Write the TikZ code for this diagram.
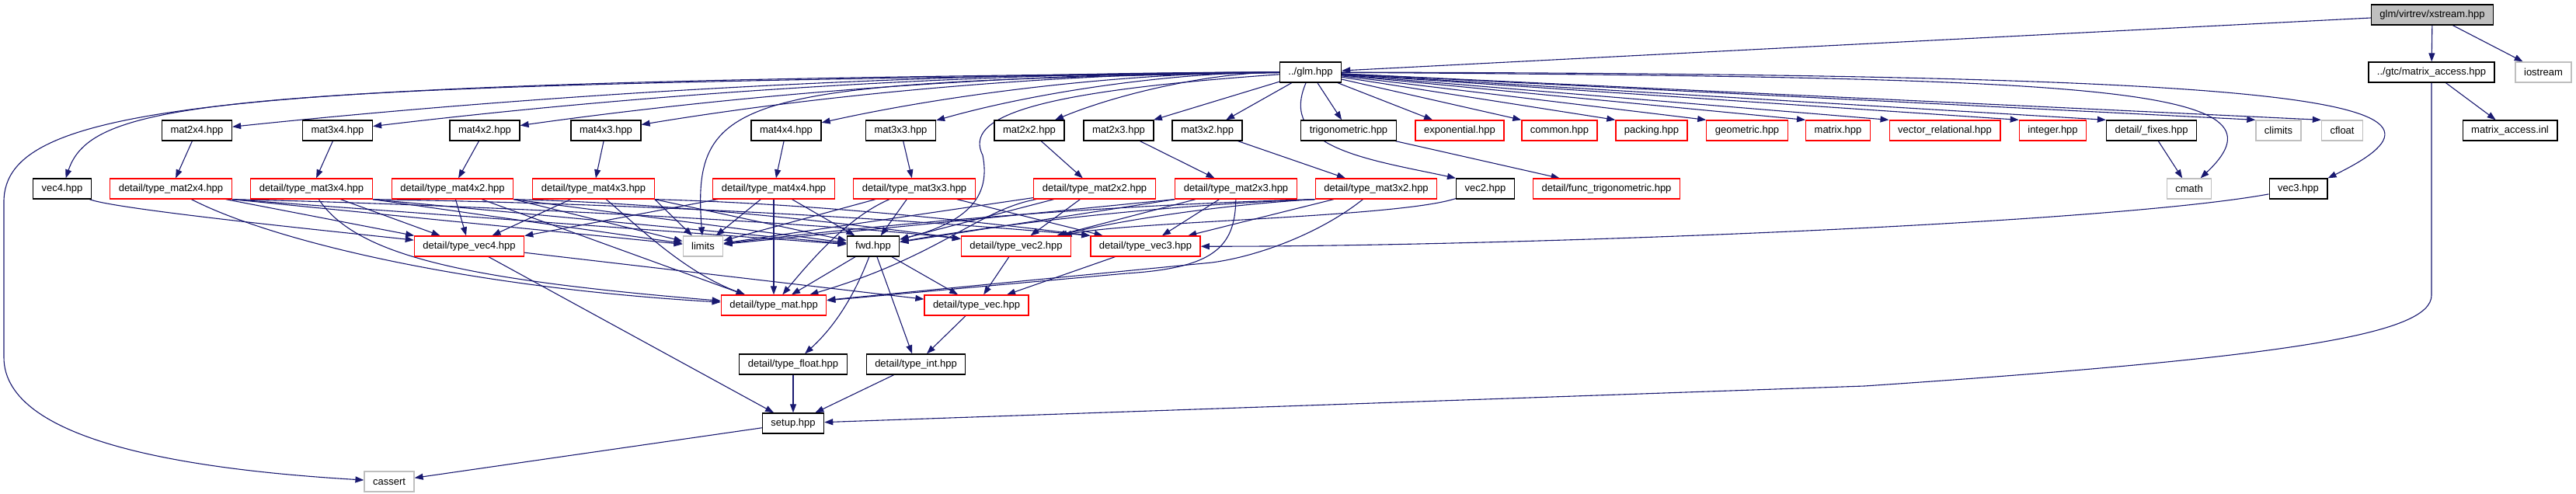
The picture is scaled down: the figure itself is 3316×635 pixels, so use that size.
\documentclass[tikz,border=0pt]{standalone}
\usepackage{fontspec}
\setmainfont{Liberation Sans}
\usepackage{xcolor}
\usepackage{tikz}
\usetikzlibrary{arrows.meta}
\definecolor{incblue}{HTML}{191970}
\definecolor{hdrred}{HTML}{FF0000}
\definecolor{sysgray}{HTML}{BFBFBF}
\pgfdeclarelayer{edges}
\pgfsetlayers{edges,main}

\begin{document}
\begin{tikzpicture}[x=1pt,y=-1pt,>={Triangle[length=11pt,width=8pt]},
    hdr/.style={draw=black,line width=1.3pt,fill=white,minimum height=26pt,
      inner xsep=11pt,inner ysep=2pt,font=\fontsize{13}{15}\selectfont},
    redhdr/.style={hdr,draw=hdrred},
    syshdr/.style={hdr,draw=sysgray},
    roothdr/.style={hdr,fill=sysgray},
    incl/.style={->,draw=incblue,line width=1.1pt}]
    \useasboundingbox (0,0) rectangle (3316,635);
    \node[roothdr] (xstream) at (3131,19) {glm/virtrev/xstream.hpp};
    \node[hdr] (glm) at (1687,93) {../glm.hpp};
    \node[hdr] (gtcmat) at (3130,93) {../gtc/matrix\_access.hpp};
    \node[syshdr] (iostream) at (3274,93) {iostream};
    \node[hdr] (mat24) at (253.5,168) {mat2x4.hpp};
    \node[hdr] (mat34) at (434.5,168) {mat3x4.hpp};
    \node[hdr] (mat42) at (624,168) {mat4x2.hpp};
    \node[hdr] (mat43) at (780,168) {mat4x3.hpp};
    \node[hdr] (mat44) at (1012,168) {mat4x4.hpp};
    \node[hdr] (mat33) at (1159.5,168) {mat3x3.hpp};
    \node[hdr] (mat22) at (1325,168) {mat2x2.hpp};
    \node[hdr] (mat23) at (1440,168) {mat2x3.hpp};
    \node[hdr] (mat32) at (1554,168) {mat3x2.hpp};
    \node[hdr] (trig) at (1736,168) {trigonometric.hpp};
    \node[redhdr] (expo) at (1879,168) {exponential.hpp};
    \node[redhdr] (common) at (2007.5,168) {common.hpp};
    \node[redhdr] (packing) at (2126,168) {packing.hpp};
    \node[redhdr] (geometric) at (2249,168) {geometric.hpp};
    \node[redhdr] (matrixh) at (2366,168) {matrix.hpp};
    \node[redhdr] (vecrel) at (2503.5,168) {vector\_relational.hpp};
    \node[redhdr] (integer) at (2642.5,168) {integer.hpp};
    \node[hdr] (fixes) at (2769.5,168) {detail/\_fixes.hpp};
    \node[syshdr] (climits) at (2933,168) {climits};
    \node[syshdr] (cfloat) at (3015,168) {cfloat};
    \node[hdr] (matinl) at (3231,168) {matrix\_access.inl};
    \node[hdr] (vec4) at (80,243) {vec4.hpp};
    \node[redhdr] (tmat24) at (220,243) {detail/type\_mat2x4.hpp};
    \node[redhdr] (tmat34) at (401,243) {detail/type\_mat3x4.hpp};
    \node[redhdr] (tmat42) at (582.5,243) {detail/type\_mat4x2.hpp};
    \node[redhdr] (tmat43) at (764,243) {detail/type\_mat4x3.hpp};
    \node[redhdr] (tmat44) at (996,243) {detail/type\_mat4x4.hpp};
    \node[redhdr] (tmat33) at (1177,243) {detail/type\_mat3x3.hpp};
    \node[redhdr] (tmat22) at (1409,243) {detail/type\_mat2x2.hpp};
    \node[redhdr] (tmat23) at (1591,243) {detail/type\_mat2x3.hpp};
    \node[redhdr] (tmat32) at (1771.5,243) {detail/type\_mat3x2.hpp};
    \node[hdr] (vec2) at (1912,243) {vec2.hpp};
    \node[redhdr] (functrig) at (2068,243) {detail/func\_trigonometric.hpp};
    \node[syshdr] (cmath) at (2818,243) {cmath};
    \node[hdr] (vec3) at (2958.5,243) {vec3.hpp};
    \node[redhdr] (tvec4) at (604,317) {detail/type\_vec4.hpp};
    \node[syshdr] (limits) at (905,317) {limits};
    \node[hdr] (fwd) at (1124,317) {fwd.hpp};
    \node[redhdr] (tvec2) at (1308,317) {detail/type\_vec2.hpp};
    \node[redhdr] (tvec3) at (1474.5,317) {detail/type\_vec3.hpp};
    \node[redhdr] (tmat) at (996,393) {detail/type\_mat.hpp};
    \node[redhdr] (tvec) at (1257,393) {detail/type\_vec.hpp};
    \node[hdr] (tfloat) at (1021,469) {detail/type\_float.hpp};
    \node[hdr] (tint) at (1179,469) {detail/type\_int.hpp};
    \node[hdr] (setup) at (1021,545) {setup.hpp};
    \node[syshdr] (cassert) at (501,620) {cassert};
    \begin{pgfonlayer}{edges}
    \draw[incl] (xstream) -- (glm);
    \draw[incl] (xstream) -- (gtcmat);
    \draw[incl] (xstream) -- (iostream);
    \draw[incl] (gtcmat) -- (matinl);
    \draw[incl] (gtcmat) -- (3130,380) .. controls (3130,430) and (2950,460) .. (2400,497) -- (setup);
    \draw[incl] (glm) .. controls (300,105) and (5,130) .. (5,260) -- (5,460) .. controls (5,570) and (250,605) .. (cassert);
    \draw[incl] (glm) .. controls (300,110) and (120,125) .. (vec4);
    \draw[incl] (glm) .. controls (1209,93) and (731,118) .. (mat24);
    \draw[incl] (glm) .. controls (1269,93) and (852,118) .. (mat34);
    \draw[incl] (glm) .. controls (1333,93) and (978,118) .. (mat42);
    \draw[incl] (glm) .. controls (1385,93) and (1082,118) .. (mat43);
    \draw[incl] (glm) .. controls (1462,93) and (1237,118) .. (mat44);
    \draw[incl] (glm) .. controls (1511,93) and (1335,118) .. (mat33);
    \draw[incl] (glm) .. controls (1566,93) and (1446,118) .. (mat22);
    \draw[incl] (glm) -- (mat23);
    \draw[incl] (glm) -- (mat32);
    \draw[incl] (glm) .. controls (950,105) and (890,120) .. (limits);
    \draw[incl] (glm) .. controls (1330,118) and (1240,150) .. (1265,200) .. controls (1275,250) and (1250,285) .. (fwd);
    \draw[incl] (glm) .. controls (1645,190) and (1760,205) .. (vec2.north west);
    \draw[incl] (glm) -- (trig);
    \draw[incl] (glm) -- (expo);
    \draw[incl] (glm) -- (common.north west);
    \draw[incl] (glm) -- (packing.north west);
    \draw[incl] (glm) -- (geometric.north west);
    \draw[incl] (glm) -- (matrixh.north west);
    \draw[incl] (glm) -- (vecrel.north west);
    \draw[incl] (glm) -- (integer.north west);
    \draw[incl] (glm) -- (fixes.north west);
    \draw[incl] (glm) -- (climits.north west);
    \draw[incl] (glm) -- (cfloat.north west);
    \draw[incl] (glm) .. controls (2700,100) and (2960,110) .. (cmath);
    \draw[incl] (glm) .. controls (3000,95) and (3200,130) .. (vec3.north east);
    \draw[incl] (mat24) -- (tmat24);
    \draw[incl] (mat34) -- (tmat34);
    \draw[incl] (mat42) -- (tmat42);
    \draw[incl] (mat43) -- (tmat43);
    \draw[incl] (mat44) -- (tmat44);
    \draw[incl] (mat33) -- (tmat33);
    \draw[incl] (mat22) -- (tmat22);
    \draw[incl] (mat23) -- (tmat23);
    \draw[incl] (mat32) -- (tmat32);
    \draw[incl] (trig) -- (functrig);
    \draw[incl] (fixes) -- (cmath);
    \draw[incl] (vec4) .. controls (150,270) and (450,300) .. (tvec4);
    \draw[incl] (vec2) .. controls (1800,280) and (1450,285) .. (tvec2);
    \draw[incl] (vec3) .. controls (2700,290) and (1900,318) .. (tvec3);
    \draw[incl] (tmat24.south east) -- (limits);
    \draw[incl] (tmat24.south east) -- (fwd);
    \draw[incl] (tmat24.south east) .. controls (635,264) and (1100,290) .. (tvec2);
    \draw[incl] (tmat24) -- (tvec4);
    \draw[incl] (tmat24) .. controls (350,310) and (600,370) .. (tmat);
    \draw[incl] (tmat34.south east) -- (limits);
    \draw[incl] (tmat34.south east) -- (fwd);
    \draw[incl] (tmat34.south east) .. controls (811,262) and (1143,280) .. (tvec3.north west);
    \draw[incl] (tmat34) -- (tvec4);
    \draw[incl] (tmat34) .. controls (460,330) and (600,360) .. (tmat);
    \draw[incl] (tmat42.south east) -- (limits);
    \draw[incl] (tmat42.south east) -- (fwd);
    \draw[incl] (tmat42.south east) .. controls (880,262) and (1110,290) .. (tvec2);
    \draw[incl] (tmat42) -- (tvec4);
    \draw[incl] (tmat42) -- (tmat);
    \draw[incl] (tmat43.south east) -- (limits);
    \draw[incl] (tmat43.south east) -- (fwd);
    \draw[incl] (tmat43.south east) .. controls (1030,262) and (1217,280) .. (tvec3.north west);
    \draw[incl] (tmat43) -- (tvec4);
    \draw[incl] (tmat43) .. controls (820,290) and (880,350) .. (tmat);
    \draw[incl] (tmat44) -- (limits);
    \draw[incl] (tmat44) -- (fwd);
    \draw[incl] (tmat44) -- (tvec4);
    \draw[incl] (tmat44) -- (tmat);
    \draw[incl] (tmat33) -- (limits);
    \draw[incl] (tmat33) -- (fwd);
    \draw[incl] (tmat33) -- (tvec3);
    \draw[incl] (tmat33) .. controls (1090,280) and (1040,340) .. (tmat);
    \draw[incl] (tmat22) -- (limits);
    \draw[incl] (tmat22) -- (fwd);
    \draw[incl] (tmat22) -- (tvec2);
    \draw[incl] (tmat22) .. controls (1260,270) and (1210,330) .. (tmat);
    \draw[incl] (tmat23.south west) -- (limits);
    \draw[incl] (tmat23.south west) -- (fwd);
    \draw[incl] (tmat23) -- (tvec2);
    \draw[incl] (tmat23) -- (tvec3);
    \draw[incl] (tmat23) .. controls (1590,320) and (1560,345) .. (1450,352) -- (tmat);
    \draw[incl] (tmat32.south west) .. controls (1430,264) and (1168,285) .. (limits);
    \draw[incl] (tmat32.south west) .. controls (1503,264) and (1313,285) .. (fwd);
    \draw[incl] (tmat32.south west) .. controls (1565,264) and (1436,285) .. (tvec2);
    \draw[incl] (tmat32) -- (tvec3);
    \draw[incl] (tmat32) .. controls (1700,300) and (1620,330) .. (1560,338) -- (tmat);
    \draw[incl] (fwd) -- (tmat);
    \draw[incl] (fwd) -- (tvec);
    \draw[incl] (fwd) .. controls (1100,380) and (1075,420) .. (tfloat);
    \draw[incl] (fwd) -- (tint);
    \draw[incl] (tvec4) -- (tvec);
    \draw[incl] (tvec4) -- (setup);
    \draw[incl] (tvec2) -- (tvec);
    \draw[incl] (tvec3) -- (tvec);
    \draw[incl] (tvec) -- (tint);
    \draw[incl] (tfloat) -- (setup);
    \draw[incl] (tint) -- (setup);
    \draw[incl] (setup) -- (cassert);
    \end{pgfonlayer}
  \end{tikzpicture}
\end{document}
